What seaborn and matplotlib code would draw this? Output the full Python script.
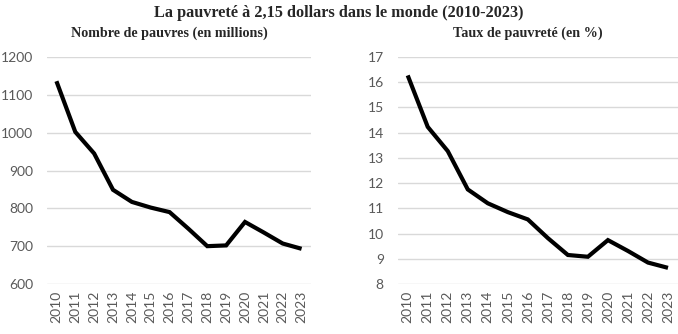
import matplotlib
matplotlib.use("Agg")
import matplotlib.pyplot as plt
import seaborn as sns
import pandas as pd

years = [2010, 2011, 2012, 2013, 2014, 2015, 2016, 2017, 2018, 2019, 2020, 2021, 2022, 2023]
pauvres_millions = [1136, 1002, 945, 849, 817, 802, 790, 746, 700, 702, 764, 736, 707, 693]
taux_pauvrete = [16.27, 14.23, 13.27, 11.75, 11.2, 10.85, 10.56, 9.82, 9.15, 9.08, 9.74, 9.31, 8.85, 8.64]

left_ticks = [600, 700, 800, 900, 1000, 1100, 1200]
right_ticks = [8, 9, 10, 11, 12, 13, 14, 15, 16, 17]

df = pd.DataFrame({"annee": years, "pauvres": pauvres_millions, "taux": taux_pauvrete})

sns.set_theme(style="white")
plt.rcParams["font.family"] = ["Lato", "DejaVu Sans"]

fig = plt.figure(figsize=(6.78, 3.34), dpi=100)
ax1 = fig.add_axes([47 / 678, 50 / 334, 264 / 678, 227 / 334])
ax2 = fig.add_axes([397.7 / 678, 50 / 334, 280.3 / 678, 227 / 334])

tick_color = "#595959"
grid_color = "#d9d9d9"

for ax, col, ticks in ((ax1, "pauvres", left_ticks), (ax2, "taux", right_ticks)):
    sns.lineplot(data=df, x="annee", y=col, ax=ax, color="black", linewidth=3.0,
                 solid_joinstyle="miter", solid_capstyle="butt")
    ax.set_xlim(years[0] - 0.5, years[-1] + 0.5)
    ax.set_ylim(ticks[0], ticks[-1])
    ax.set_yticks(ticks)
    ax.set_xticks(years)
    ax.set_xticklabels([str(y) for y in years], rotation=90)
    ax.set_xlabel("")
    ax.set_ylabel("")
    for s in ax.spines.values():
        s.set_visible(False)
    ax.grid(axis="y", color=grid_color, linewidth=1.0)
    ax.set_axisbelow(True)
    ax.tick_params(axis="both", length=0, labelsize=10, labelcolor=tick_color)
    ax.tick_params(axis="y", pad=10)
    ax.tick_params(axis="x", pad=5)

serif = ["Liberation Serif", "DejaVu Serif"]
fig.text(0.5, 1 - 13 / 334, "La pauvreté à 2,15 dollars dans le monde (2010-2023)",
         ha="center", va="center", fontsize=11.7, fontweight="bold", family=serif)
fig.text(169 / 678, 1 - 33 / 334, "Nombre de pauvres (en millions)",
         ha="center", va="center", fontsize=10.2, fontweight="bold", family=serif)
fig.text(528 / 678, 1 - 33 / 334, "Taux de pauvreté (en %)",
         ha="center", va="center", fontsize=10.2, fontweight="bold", family=serif)

fig.savefig("out.png", dpi=100)
